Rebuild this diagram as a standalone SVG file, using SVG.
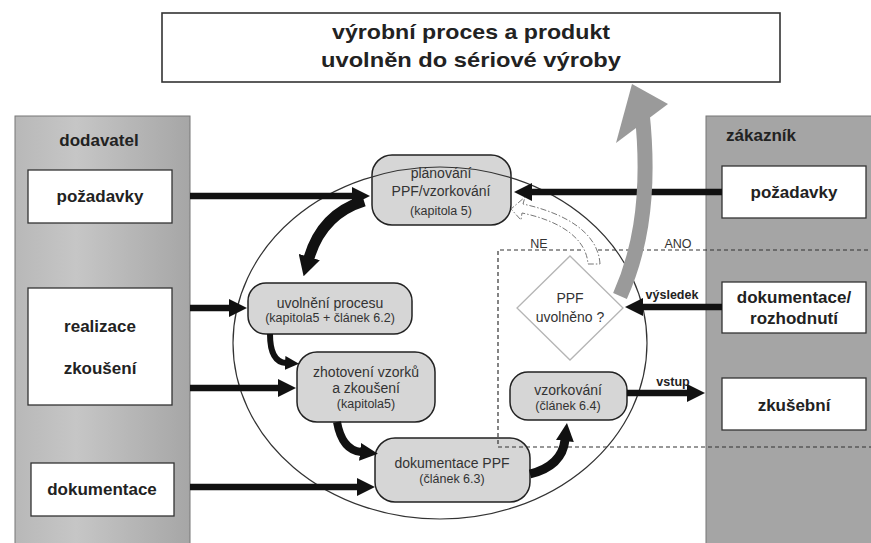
<svg xmlns="http://www.w3.org/2000/svg" width="871" height="543" viewBox="0 0 871 543">
  <defs>
    <linearGradient id="gLeft" x1="0" y1="0" x2="1" y2="0">
      <stop offset="0" stop-color="#b8b8b8"/>
      <stop offset="0.35" stop-color="#c6c6c6"/>
      <stop offset="1" stop-color="#a6a6a6"/>
    </linearGradient>
    <marker id="head" markerUnits="userSpaceOnUse" viewBox="0 0 18 18" markerWidth="18" markerHeight="18" refX="1" refY="9" orient="auto">
      <path d="M0,0 L18,9 L0,18 Z" fill="#111"/>
    </marker>
    <marker id="headS" markerUnits="userSpaceOnUse" viewBox="0 0 14 14" markerWidth="14" markerHeight="14" refX="1" refY="7" orient="auto">
      <path d="M0,0 L14,7 L0,14 Z" fill="#111"/>
    </marker>
    <marker id="headL" markerUnits="userSpaceOnUse" viewBox="0 0 20 22" markerWidth="20" markerHeight="22" refX="1" refY="11" orient="auto">
      <path d="M0,0 L20,11 L0,22 Z" fill="#111"/>
    </marker>
  </defs>
  <style>
    text { font-family: "Liberation Sans", Arial, sans-serif; }
    .title { font-size: 17px; font-weight: bold; fill: #222; text-anchor: middle; }
    .box { fill: #fff; stroke: #333; stroke-width: 1.3; }
    .btxt { font-size: 17px; font-weight: bold; fill: #222; text-anchor: middle; }
    .node { fill: #d6d6d6; stroke: #222; stroke-width: 1.5; }
    .ntxt { font-size: 14px; fill: #333; text-anchor: middle; }
    .nsub { font-size: 12.5px; fill: #333; text-anchor: middle; }
    .conn { fill: none; stroke: #111; stroke-width: 6.5; marker-end: url(#head); }
    .curve { fill: none; stroke: #111; stroke-linecap: butt; }
    .lbl { font-size: 12.5px; fill: #333; text-anchor: middle; }
    .lblb { font-size: 12.5px; font-weight: bold; fill: #222; text-anchor: middle; }
  </style>

  <rect width="871" height="543" fill="#fff"/>

  <!-- result box at the top -->
  <g id="release">
    <rect x="162" y="13" width="618" height="69" fill="#fff" stroke="#333" stroke-width="1.6"/>
    <text x="471" y="39" font-size="21" font-weight="bold" fill="#222" text-anchor="middle" textLength="278" lengthAdjust="spacingAndGlyphs">výrobní proces a produkt</text>
    <text x="471" y="67" font-size="21" font-weight="bold" fill="#222" text-anchor="middle" textLength="300" lengthAdjust="spacingAndGlyphs">uvolněn do sériové výroby</text>
  </g>

  <!-- supplier column -->
  <g id="supplier">
    <rect x="15" y="116" width="175" height="430" fill="url(#gLeft)" stroke="#777" stroke-width="1"/>
    <text class="title" x="99" y="146">dodavatel</text>
  </g>
  <g id="s-requirements">
    <rect class="box" x="28" y="170" width="144" height="53"/>
    <text class="btxt" x="100" y="202">požadavky</text>
  </g>
  <g id="s-testing">
    <rect class="box" x="28" y="288" width="144" height="117"/>
    <text class="btxt" x="100" y="332">realizace</text>
    <text class="btxt" x="100" y="374">zkoušení</text>
  </g>
  <g id="s-documentation">
    <rect class="box" x="31" y="463" width="143" height="53"/>
    <text class="btxt" x="102" y="495">dokumentace</text>
  </g>

  <!-- customer column -->
  <g id="customer">
    <rect x="706" y="116" width="175" height="430" fill="#a5a5a5" stroke="#777" stroke-width="1"/>
    <text class="title" x="761" y="141">zákazník</text>
  </g>
  <g id="c-requirements">
    <rect class="box" x="722" y="166" width="144" height="52"/>
    <text class="btxt" x="794" y="198">požadavky</text>
  </g>
  <g id="c-decision">
    <rect class="box" x="722" y="282" width="144" height="51"/>
    <text class="btxt" x="794" y="303">dokumentace/</text>
    <text class="btxt" x="794" y="324">rozhodnutí</text>
  </g>
  <g id="c-testing">
    <rect class="box" x="722" y="378" width="144" height="52"/>
    <text class="btxt" x="794" y="411">zkušební</text>
  </g>

  <!-- process steps -->
  <g id="planning">
    <rect class="node" x="372" y="155" width="139" height="70" rx="20"/>
    <text class="ntxt" x="441" y="178">plánování</text>
    <text class="ntxt" x="441" y="196">PPF/vzorkování</text>
    <text class="nsub" x="441" y="215">(kapitola 5)</text>
  </g>
  <g id="process-release">
    <rect class="node" x="248" y="283" width="164" height="51" rx="18"/>
    <text class="ntxt" x="330" y="308">uvolnění procesu</text>
    <text class="nsub" x="330" y="322">(kapitola5 + článek 6.2)</text>
  </g>
  <g id="samples">
    <rect class="node" x="297" y="352" width="138" height="70" rx="20"/>
    <text class="ntxt" x="366" y="377">zhotovení vzorků</text>
    <text class="ntxt" x="366" y="393">a zkoušení</text>
    <text class="nsub" x="366" y="408">(kapitola5)</text>
  </g>
  <g id="ppf-docs">
    <rect class="node" x="375" y="438" width="155" height="64" rx="20"/>
    <text class="ntxt" x="452" y="468">dokumentace PPF</text>
    <text class="nsub" x="452" y="483">(článek 6.3)</text>
  </g>
  <g id="sampling">
    <rect class="node" x="510" y="372" width="117" height="48" rx="18"/>
    <text class="ntxt" x="568" y="395">vzorkování</text>
    <text class="nsub" x="568" y="410">(článek 6.4)</text>
  </g>
  <g id="decision">
    <polygon points="570,256 623,308 570,360 517,308" fill="#fff" stroke="#b5b5b5" stroke-width="1.3"/>
    <text class="ntxt" x="570" y="303">PPF</text>
    <text class="ntxt" x="570" y="322">uvolněno ?</text>
  </g>

  <!-- process cycle outline -->
  <ellipse id="cycle" cx="440" cy="343" rx="207" ry="176" fill="none" stroke="#333" stroke-width="1.2"/>

  <!-- customer sampling zone -->
  <path id="zone" d="M 875 250 H 498 V 447 H 875" fill="none" stroke="#333" stroke-width="1.2" stroke-dasharray="4,3"/>

  <g id="connectors">
    <line class="conn" x1="190" y1="196" x2="353" y2="196"/>
    <line class="conn" x1="722" y1="192" x2="531" y2="192"/>
    <line class="conn" x1="190" y1="308" x2="230" y2="308"/>
    <line class="conn" x1="190" y1="388" x2="279" y2="388"/>
    <line class="conn" x1="190" y1="487" x2="358" y2="487"/>
    <line class="conn" x1="722" y1="307" x2="642" y2="307"/>
    <line class="conn" x1="627" y1="393" x2="688" y2="393"/>

    <path class="curve" d="M 364 201 Q 322 214 309 258" stroke-width="11" marker-end="url(#headL)"/>
    <path class="curve" d="M 270 334 Q 270 362 286 363" stroke-width="6" marker-end="url(#headS)"/>
    <path class="curve" d="M 337 422 Q 342 450 361 452" stroke-width="8" marker-end="url(#head)"/>
    <path class="curve" d="M 530 474 Q 562 466 565 440" stroke-width="9" marker-end="url(#head)"/>

    <!-- "NE" return path -->
    <path d="M 600 264 C 598 230 560 212 523 204 L 525 197 L 511 209 L 521 220 L 522 213 C 556 220 586 236 588 264 Z" fill="#fff" stroke="#777" stroke-width="1" stroke-dasharray="6,2,1.5,2"/>

    <!-- "ANO" release path -->
    <path d="M 620 296 C 636 260 652 205 642 112" fill="none" stroke="#9a9a9a" stroke-width="15"/>
    <polygon points="616,143 632,84 668,104" fill="#9a9a9a"/>

    <text class="lbl" x="539" y="248">NE</text>
    <text class="lbl" x="678" y="248">ANO</text>
    <text class="lblb" x="672" y="299">výsledek</text>
    <text class="lblb" x="673" y="386">vstup</text>
  </g>
</svg>
